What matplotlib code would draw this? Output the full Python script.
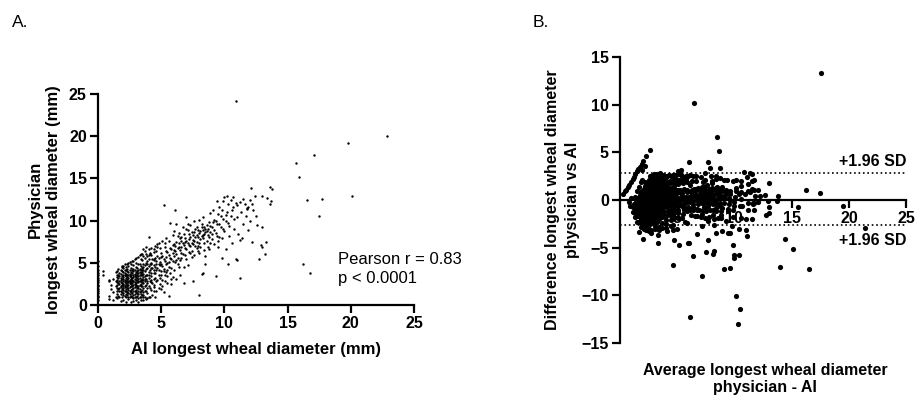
import matplotlib
matplotlib.use("Agg")
import matplotlib.pyplot as plt
import numpy as np

plt.rcParams['font.family'] = ['Liberation Sans', 'DejaVu Sans']

# --- panel A: AI vs physician longest wheal diameter (mm) ---
# dense cluster, grouped by AI value: (ai, [physician values])
core_cols = [
    (0.4, [3.5, 4.0]),
    (0.9, [0.7, 1.1, 2.8, 3.0]),
    (1.0, [1.9, 2.4]),
    (1.2, [0.6, 1.5, 3.1]),
    (1.4, [1.0, 2.2, 2.9, 3.9]),
    (1.5, [0.8, 1.3, 1.7, 2.0, 2.4, 2.7, 3.0, 3.3, 3.6, 4.0]),
    (1.6, [1.1, 1.9, 2.6, 3.2, 3.5, 4.3]),
    (1.7, [0.9, 1.6, 2.0, 2.5, 2.9, 3.4, 3.8]),
    (1.8, [0.5, 1.3, 1.7, 2.1, 2.3, 2.7, 3.0, 3.2, 3.7, 4.1]),
    (1.9, [1.0, 1.5, 1.9, 2.4, 2.6, 3.1, 3.4, 4.0, 4.6]),
    (2.0, [0.6, 1.2, 1.4, 1.8, 2.0, 2.2, 2.5, 2.9, 3.1, 3.3, 3.6, 3.9, 4.4]),
    (2.1, [1.1, 1.6, 2.1, 2.4, 2.7, 3.0, 3.5, 3.8, 4.2, 4.9]),
    (2.2, [0.4, 0.9, 1.3, 1.6, 1.9, 2.3, 2.6, 2.8, 3.2, 3.4, 3.7, 4.1, 4.5]),
    (2.3, [1.2, 1.5, 2.0, 2.2, 2.5, 2.9, 3.1, 3.3, 3.6, 4.0, 4.3]),
    (2.4, [0.7, 1.0, 1.4, 1.8, 2.0, 2.4, 2.7, 2.9, 3.2, 3.5, 3.9, 4.6, 5.0]),
    (2.5, [0.9, 1.3, 1.7, 2.1, 2.6, 2.8, 3.0, 3.4, 3.7, 4.2]),
    (2.6, [0.3, 1.1, 1.5, 1.8, 2.2, 2.5, 2.7, 3.1, 3.3, 3.6, 3.9, 4.4, 4.8]),
    (2.7, [1.0, 1.4, 1.9, 2.3, 2.6, 3.0, 3.2, 3.8, 4.1, 5.2]),
    (2.8, [0.5, 0.8, 1.2, 1.7, 2.0, 2.4, 2.8, 2.9, 3.3, 3.5, 4.0, 4.3, 4.7]),
    (2.9, [0.9, 1.3, 1.6, 2.1, 2.5, 2.7, 3.1, 3.4, 3.7, 4.2]),
    (3.0, [0.6, 1.0, 1.5, 1.8, 2.2, 2.4, 2.6, 3.0, 3.3, 3.6, 3.9, 4.5, 5.0]),
    (3.1, [1.1, 1.4, 2.0, 2.3, 2.9, 3.2, 3.5, 4.0, 4.4]),
    (3.2, [0.4, 0.8, 1.3, 1.6, 2.0, 2.3, 2.7, 2.9, 3.1, 3.4, 3.8, 4.1, 4.9]),
    (3.3, [1.0, 1.5, 1.9, 2.4, 2.8, 3.2, 3.6, 4.3, 4.8]),
    (3.4, [0.9, 1.3, 1.7, 2.2, 2.5, 2.8, 3.0, 3.5, 3.8, 4.2, 4.6, 5.4]),
    (3.5, [1.2, 1.8, 2.3, 2.7, 3.1, 3.5, 3.9, 4.4, 5.3]),
    (3.6, [0.6, 1.0, 1.5, 2.0, 2.6, 3.0, 3.3, 3.7, 4.1, 4.5, 4.9]),
    (3.7, [0.9, 1.6, 2.2, 2.8, 3.4, 4.0, 4.7, 5.6]),
    (3.8, [0.7, 1.7, 2.4, 3.1, 3.6, 4.3, 5.0, 6.9]),
    (3.9, [1.4, 2.0, 2.9, 3.5, 4.4, 5.2]),
    (4.0, [1.0, 2.3, 3.2, 3.9, 4.6, 5.5]),
    (4.1, [0.9, 2.8, 4.2, 6.2]),
    (4.2, [1.8, 2.7, 3.4, 4.4, 5.0, 5.9]),
    (4.4, [2.1, 3.1, 3.8, 4.7, 5.4, 6.3]),
]

# transition zone (ai, physician)
mid_pts = [
    (4.2, 3.0), (4.3, 4.4), (4.4, 5.3), (4.5, 3.8), (4.6, 4.9), (4.7, 5.8), (4.8, 4.2),
    (4.9, 5.1), (5.0, 6.2), (5.1, 4.6), (5.2, 5.5), (5.3, 3.6), (5.4, 6.4), (5.5, 5.0),
    (5.6, 5.9), (5.7, 6.8), (5.8, 4.4), (5.9, 6.2), (6.0, 7.2), (4.1, 6.0), (4.4, 2.4),
    (4.9, 3.2), (5.0, 5.7), (5.3, 6.9), (5.6, 7.6), (4.6, 6.4), (4.2, 4.8), (3.9, 5.8),
    (4.5, 5.6), (5.8, 5.4), (6.0, 5.8), (5.2, 1.5), (5.8, 2.5), (5.7, 9.7), (4.9, 6.8),
    (4.3, 1.2), (4.6, 1.6), (4.8, 2.0), (5.1, 2.2), (5.5, 2.6), (5.0, 1.9), (4.5, 1.0),
    (3.9, 0.8), (2.5, 5.1), (3.0, 5.6), (3.5, 6.1), (4.0, 6.6), (2.0, 4.6), (6.5, 3.5),
    (6.2, 3.1), (5.9, 3.3), (3.3, 5.9), (4.7, 7.2),
]

# the edge of the cluster towards the band
mid_pts2 = [
    (3.6, 5.8), (3.7, 6.4), (3.9, 4.8), (4.0, 3.6), (4.1, 4.9), (4.2, 3.8), (4.3, 5.4),
    (4.3, 2.6), (4.4, 4.1), (4.5, 3.2), (4.6, 2.8), (4.6, 4.1), (4.7, 3.0), (4.8, 4.9),
    (4.9, 2.5), (5.0, 3.5), (5.1, 3.0), (5.2, 4.0), (5.3, 2.8), (5.4, 3.9), (5.5, 3.4),
    (5.6, 4.5), (5.7, 3.8), (5.8, 3.1), (6.0, 4.1), (3.8, 6.0), (4.0, 5.9), (4.2, 6.7),
    (4.5, 7.0), (4.8, 7.4), (5.1, 7.6), (5.4, 7.9), (3.6, 6.6), (3.2, 5.7), (3.4, 6.0),
    (2.9, 5.4), (2.3, 4.8), (1.9, 4.5), (2.8, 5.2), (3.1, 3.8), (3.3, 3.9), (3.5, 4.1),
    (3.7, 3.1), (3.9, 2.6), (4.1, 2.0), (4.4, 1.7), (3.6, 1.2), (3.4, 0.6),
]

# main band along the identity line
band_pts = [
    (6.1, 6.4), (6.2, 7.5), (6.3, 5.6), (6.4, 6.9), (6.5, 7.9), (6.6, 6.2), (6.7, 7.3),
    (6.8, 8.4), (6.9, 6.8), (7.0, 7.6), (7.0, 5.4), (7.1, 8.9), (7.2, 7.1), (7.3, 8.0),
    (7.4, 6.4), (7.5, 7.7), (7.6, 8.6), (7.7, 7.0), (7.8, 9.2), (7.9, 8.1), (8.0, 7.4),
    (8.1, 8.8), (8.2, 9.6), (8.3, 7.9), (8.4, 8.4), (8.5, 9.0), (8.6, 7.6), (8.7, 8.3),
    (8.8, 9.8), (8.9, 8.6), (9.0, 9.2), (6.3, 8.2), (6.6, 7.6), (6.9, 7.9), (7.2, 6.3),
    (7.5, 8.3), (7.8, 7.5), (8.1, 6.9), (8.4, 9.3), (8.7, 6.9), (9.0, 7.8), (6.5, 5.3),
    (6.8, 4.5), (7.1, 4.7), (7.6, 5.9), (8.0, 6.2), (8.5, 5.8), (8.8, 6.6), (6.0, 8.8),
    (6.7, 9.2), (7.3, 9.5), (7.6, 9.9), (8.0, 10.1), (7.0, 9.0), (6.4, 4.5), (6.2, 6.0),
    (7.4, 7.3), (8.2, 8.2), (7.9, 7.0), (8.6, 8.8), (6.6, 6.9), (7.2, 7.8), (7.7, 8.1),
    (8.3, 8.9), (6.2, 9.6), (7.0, 10.4), (8.5, 4.9), (8.2, 3.7), (9.8, 5.6), (6.8, 2.6),
]

# more of the band, it is denser than it looks at first
band_pts2 = [
    (4.6, 5.2), (4.7, 4.4), (4.8, 5.6), (4.9, 4.7), (5.0, 4.9), (5.1, 5.8), (5.2, 4.3),
    (5.3, 5.2), (5.4, 5.7), (5.5, 6.3), (5.6, 5.1), (5.7, 5.6), (5.8, 6.6), (5.9, 5.2),
    (6.0, 6.5), (6.1, 7.0), (6.2, 5.3), (6.3, 6.7), (6.4, 7.4), (6.5, 6.5), (6.6, 8.0),
    (6.7, 6.0), (6.8, 7.1), (6.9, 7.5), (7.0, 6.6), (7.1, 7.4), (7.2, 8.4), (7.3, 7.0),
    (7.4, 8.7), (7.5, 7.2), (7.6, 7.6), (7.7, 9.0), (7.8, 8.3), (7.9, 8.9), (8.0, 8.5),
    (8.1, 7.8), (8.2, 9.2), (8.3, 8.3), (8.4, 7.3), (8.5, 8.7), (8.6, 9.5), (8.7, 9.0),
    (8.8, 8.0), (8.9, 9.4), (9.0, 8.4), (9.1, 9.8), (9.2, 8.9), (9.3, 9.9), (9.4, 8.2),
    (9.6, 9.6), (9.7, 10.6), (9.9, 9.0), (10.1, 10.7), (10.3, 9.7), (10.6, 11.2),
    (10.8, 10.2), (7.3, 6.2), (7.9, 6.4), (8.4, 6.5), (6.1, 5.1), (5.5, 4.2), (4.8, 3.6),
    (4.5, 4.5), (5.0, 4.0), (5.4, 4.8), (6.6, 5.6), (7.4, 5.7), (8.9, 7.3), (9.5, 7.6),
    (6.3, 4.8), (6.9, 5.9), (7.8, 6.7), (5.9, 7.1), (6.4, 8.5), (7.1, 9.6), (8.3, 10.4),
    (8.9, 10.9), (9.6, 11.6), (5.3, 7.3), (4.7, 6.9), (4.4, 6.6), (5.9, 8.3),
]

# upper band, sparser
upper_pts = [
    (9.2, 10.1), (9.3, 8.5), (9.4, 9.6), (9.5, 10.8), (9.6, 8.0), (9.7, 9.3), (9.8, 11.3),
    (9.9, 10.2), (10.0, 8.8), (10.1, 9.9), (10.2, 11.0), (10.3, 12.0), (10.4, 9.4),
    (10.5, 10.6), (10.6, 7.3), (10.7, 11.6), (10.8, 9.0), (10.9, 12.1), (11.0, 10.4),
    (11.1, 8.4), (11.2, 12.2), (11.3, 11.0), (11.5, 9.6), (11.6, 12.0), (11.8, 11.4),
    (12.0, 10.0), (12.3, 11.2), (12.5, 10.5), (9.2, 7.2), (9.5, 6.9), (9.8, 7.9),
    (10.1, 6.6), (10.4, 8.2), (9.1, 11.2), (9.4, 12.3), (10.0, 12.8), (11.9, 8.9),
    (12.6, 9.5), (11.4, 7.9), (10.2, 12.9), (9.9, 12.3), (10.5, 12.5),
    (11.0, 11.8), (11.5, 12.6), (12.0, 12.4), (12.4, 12.9), (11.7, 10.6), (12.2, 12.0),
    (10.7, 12.8),
]

# isolated points
outlier_pts = [
    (10.9, 24.2), (22.9, 20.0), (19.8, 19.2), (20.1, 12.9), (17.1, 17.8), (15.7, 16.8),
    (15.9, 15.2), (16.5, 12.4), (17.7, 12.6), (17.5, 10.5), (16.2, 4.8), (16.8, 3.8),
    (13.6, 14.0), (13.8, 13.7), (13.0, 12.9), (13.4, 12.7), (13.7, 12.3), (13.6, 12.0),
    (12.1, 13.9), (13.0, 9.2), (13.3, 7.5), (13.0, 6.9), (13.2, 6.1), (12.7, 5.5),
    (12.2, 7.5), (11.9, 11.6), (11.8, 11.5), (11.2, 7.7), (11.2, 3.2), (10.9, 5.5),
    (10.3, 4.8), (9.3, 3.4), (8.3, 3.8), (8.0, 1.2), (7.5, 2.8), (5.2, 11.8),
    (6.1, 11.2), (4.0, 8.0), (5.6, 1.1), (12.9, 7.1), (11.0, 5.3),
]

# points sitting on the axes of panel A (AI = 0 or physician = 0)
ai_zero_phys = [0.6, 0.9, 1.1, 1.4, 1.6, 1.9, 2.2, 2.4, 2.7, 3.0, 3.2, 3.5, 3.8, 4.1, 4.6, 5.2]
phys_zero_ai = [3.4, 4.1, 12.3]

# panel B points with no visible partner in panel A (average, difference)
ba_extra_avg = [6.5, 10.1]
ba_extra_diff = [10.2, -10.1]

sd_upper = 2.8
sd_lower = -2.6

ai = []
phys = []
for a, ys in core_cols:
    for y in ys:
        ai.append(a)
        phys.append(y)
for group in (mid_pts, mid_pts2, band_pts, band_pts2, upper_pts, outlier_pts):
    for a, y in group:
        ai.append(a)
        phys.append(y)
for y in ai_zero_phys:
    ai.append(0.0)
    phys.append(y)
for a in phys_zero_ai:
    ai.append(a)
    phys.append(0.0)
ai = np.array(ai)
phys = np.array(phys)

avg = np.concatenate([(ai + phys) / 2, ba_extra_avg])
diff = np.concatenate([phys - ai, ba_extra_diff])

fig = plt.figure(figsize=(9.19, 4.0), dpi=100)

# ---------- A ----------
axA = fig.add_axes([0.1066, 0.2375, 0.3439, 0.5275])
axA.scatter(ai, phys, s=3, c='black', linewidths=0, zorder=1)
axA.set_xlim(0, 25)
axA.set_ylim(0, 25)
axA.set_xticks([0, 5, 10, 15, 20, 25])
axA.set_yticks([0, 5, 10, 15, 20, 25])
for s in ['top', 'right']:
    axA.spines[s].set_visible(False)
for s in ['left', 'bottom']:
    axA.spines[s].set_linewidth(1.6)
axA.tick_params(width=1.6, length=6, labelsize=11.5, pad=2)
for lab in axA.get_xticklabels() + axA.get_yticklabels():
    lab.set_fontweight('bold')
axA.set_xlabel('AI longest wheal diameter (mm)', fontsize=12, fontweight='bold', labelpad=8)
axA.set_ylabel('Physician\nlongest wheal diameter (mm)', fontsize=12, fontweight='bold',
               labelpad=6, linespacing=1.2)
axA.text(0.758, 0.17, 'Pearson r = 0.83\np < 0.0001', transform=axA.transAxes,
         fontsize=12, va='center', ha='left', linespacing=1.3)
fig.text(12 / 919, 1 - 27 / 400, 'A.', fontsize=12.5, va='baseline')

# ---------- B ----------
axB = fig.add_axes([0.6746, 0.1425, 0.3114, 0.715])
axB.scatter(avg, diff, s=14, c='black', linewidths=0, zorder=1)
axB.plot([0, 25], [sd_upper, sd_upper], ls=':', color='black', lw=1.2)
axB.plot([0, 25], [sd_lower, sd_lower], ls=':', color='black', lw=1.2)
axB.set_xlim(0, 25)
axB.set_ylim(-15, 15)
axB.set_xticks([5, 10, 15, 20, 25])
axB.set_yticks([-15, -10, -5, 0, 5, 10, 15])
axB.spines['bottom'].set_position(('data', 0))
for s in ['top', 'right']:
    axB.spines[s].set_visible(False)
for s in ['left', 'bottom']:
    axB.spines[s].set_linewidth(1.6)
axB.tick_params(width=1.6, length=6, labelsize=11.5, pad=2)
for lab in axB.get_xticklabels() + axB.get_yticklabels():
    lab.set_fontweight('bold')
axB.text(25, 4.0, '+1.96 SD', fontsize=11.5, fontweight='bold', ha='right', va='center')
axB.text(25, -4.2, '+1.96 SD', fontsize=11.5, fontweight='bold', ha='right', va='center')
axB.set_ylabel('Difference longest wheal diameter\nphysician vs AI', fontsize=11.5,
               fontweight='bold', labelpad=1, linespacing=1.45)
fig.text(765 / 919, 1 - 379 / 400, 'Average longest wheal diameter\nphysician - AI',
         fontsize=11.5, fontweight='bold', ha='center', va='center', linespacing=1.1)
fig.text(533 / 919, 1 - 27 / 400, 'B.', fontsize=12.5, va='baseline')

fig.savefig('out.png', dpi=100)
